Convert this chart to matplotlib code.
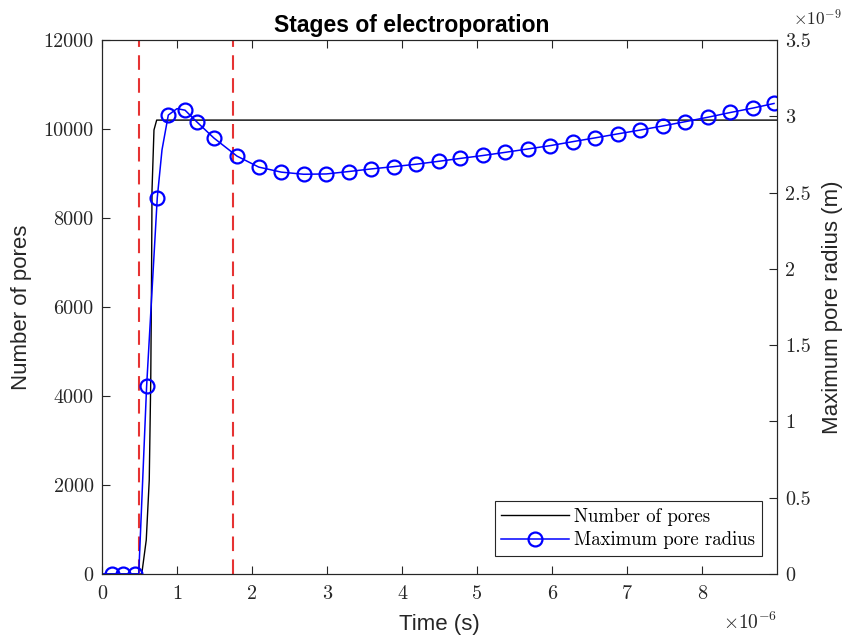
import matplotlib
matplotlib.use("Agg")
import matplotlib.pyplot as plt

plt.rcParams['mathtext.fontset'] = 'cm'
plt.rcParams['axes.unicode_minus'] = False

# time in microseconds
pores_t = [0.0, 0.53, 0.59, 0.63, 0.65, 0.66, 0.667, 0.693, 0.729, 9.0]
pores_n = [0, 0, 763, 2112, 4360, 6500, 8630, 9978, 10200, 10200]

# time in microseconds, radius in nanometres
radius_t = [0.0, 0.13, 0.28, 0.44, 0.49, 0.595, 0.737, 0.80, 0.884, 1.0,
            1.107, 1.267, 1.493, 1.80, 2.09, 2.39, 2.69, 2.99, 3.29, 3.59,
            3.89, 4.19, 4.49, 4.78, 5.08, 5.38, 5.68, 5.98, 6.28, 6.58,
            6.88, 7.18, 7.48, 7.78, 8.08, 8.38, 8.68, 8.96]
radius_r = [0.0, 0.0, 0.0, 0.0, 0.0, 1.232, 2.466, 2.78, 3.008, 3.05,
            3.04, 2.962, 2.857, 2.739, 2.667, 2.634, 2.620, 2.622, 2.638, 2.655,
            2.670, 2.686, 2.705, 2.724, 2.743, 2.764, 2.786, 2.808, 2.834, 2.859,
            2.885, 2.910, 2.937, 2.965, 2.994, 3.025, 3.054, 3.084]
marker_idx = [1, 2, 3, 5, 6, 8] + list(range(10, len(radius_t)))

stage_times = [0.5, 1.75]

x_ticks = [0, 1, 2, 3, 4, 5, 6, 7, 8]
left_ticks = [0, 2000, 4000, 6000, 8000, 10000, 12000]
right_ticks = [0, 0.5, 1, 1.5, 2, 2.5, 3, 3.5]

dark = '#262626'
tick_font = {'family': 'cmr10', 'size': 14.5}
label_font = {'family': 'Liberation Sans', 'size': 16}

fig = plt.figure(figsize=(8.45, 6.38), dpi=100)
ax = fig.add_axes([102 / 845, 1 - 574 / 638, 675 / 845, 534 / 638])
ax2 = ax.twinx()

l1, = ax.plot(pores_t, pores_n, color='black', lw=1.0, label='Number of pores')
l2, = ax2.plot(radius_t, radius_r, color=(0, 0, 1), lw=1.1, marker='o',
               markevery=marker_idx, markersize=10, markerfacecolor='none',
               markeredgewidth=1.6, label='Maximum pore radius')
for t in stage_times:
    ax.axvline(t, color=(0.9, 0.2, 0.2), lw=1.5, dashes=(7, 4))

ax.set_xlim(0, 9)
ax.set_ylim(0, 12000)
ax2.set_ylim(0, 3.5)
ax.set_xticks(x_ticks)
ax.set_yticks(left_ticks)
ax2.set_yticks(right_ticks)
ax.set_xticklabels([str(v) for v in x_ticks], fontdict=tick_font, color=dark)
ax.set_yticklabels([str(v) for v in left_ticks], fontdict=tick_font, color=dark)
ax2.set_yticklabels(['%g' % v for v in right_ticks], fontdict=tick_font, color=dark)

ax.tick_params(axis='x', direction='in', length=6, top=True, width=0.8, color=dark, pad=8)
ax.tick_params(axis='y', direction='in', length=6, width=0.8, color=dark, pad=6)
ax2.tick_params(axis='y', direction='in', length=6, width=0.8, color=dark, pad=6)
for a in (ax, ax2):
    for s in a.spines.values():
        s.set_color(dark)
        s.set_linewidth(0.8)

ax.set_xlabel('Time (s)', fontdict=label_font, color=dark, labelpad=8)
ax.set_ylabel('Number of pores', fontdict=label_font, color=dark, labelpad=8)
ax2.set_ylabel('Maximum pore radius (m)', fontdict=label_font, color=dark, labelpad=8)
ax.set_title('Stages of electroporation', family='Liberation Sans', fontsize=16.5,
             fontweight='bold', color='black', pad=6, x=0.459)

ax.text(1.0, -0.07, r'$\times10^{-6}$', transform=ax.transAxes, ha='right',
        va='top', fontsize=14, color=dark)
ax.text(1.024, 1.02, r'$\times10^{-9}$', transform=ax.transAxes, ha='left',
        va='bottom', fontsize=12.5, color=dark)

leg = ax2.legend(handles=[l1, l2], loc='lower right',
                 bbox_to_anchor=((762 - 102) / 675, (574 - 556) / 534),
                 borderaxespad=0, prop={'family': 'cmr10', 'size': 13.5},
                 fancybox=False, framealpha=1, edgecolor=dark,
                 handlelength=3.6, handletextpad=0.3, borderpad=0.35,
                 labelspacing=0.3)
leg.get_frame().set_linewidth(0.8)

fig.savefig('out.png', dpi=100)
